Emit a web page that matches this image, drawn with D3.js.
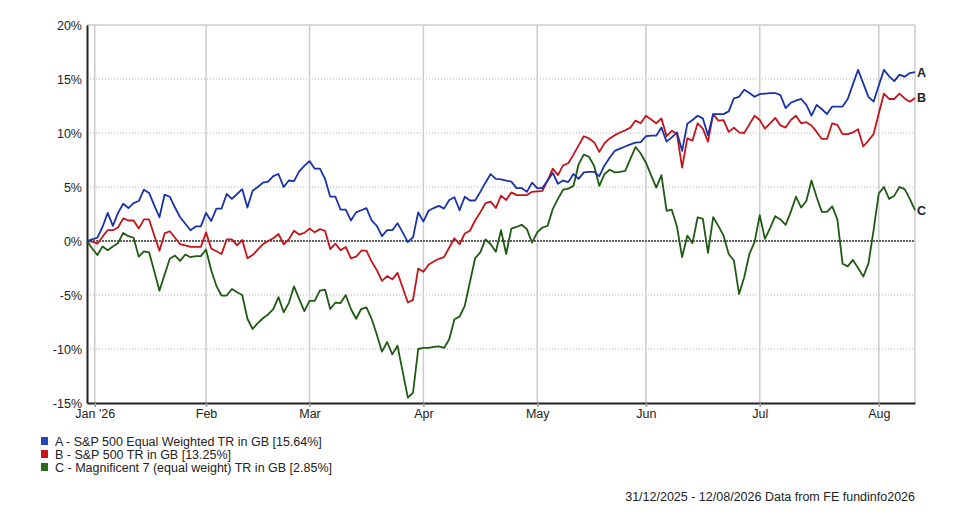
<!DOCTYPE html>
<html>
<head>
<meta charset="utf-8">
<script src="https://cdn.jsdelivr.net/npm/d3@7/dist/d3.min.js"></script>
<style>
  html, body { margin: 0; padding: 0; background: #fff; }
  svg { display: block; font-family: "Liberation Sans", Arial, sans-serif; }
</style>
</head>
<body>
<svg id="chart" width="960" height="523"></svg>
<script>
// ---- Data (daily business-day index 0 = 31/12/2025 ... 160 = 12/08/2026), values in % ----
const seriesNames = [
  "A - S&P 500 Equal Weighted TR in GB [15.64%]",
  "B - S&P 500 TR in GB [13.25%]",
  "C - Magnificent 7 (equal weight) TR in GB [2.85%]"
];
const seriesKeys = ["A", "B", "C"];

const seriesA = [
  0, 0.15, 0.3, 1.3, 2.6, 1.4, 2.6, 3.45, 3.05, 3.5,
  3.7, 4.75, 4.45, 3.3, 2.2, 4.3, 4.1, 3.1, 2.2, 1.6,
  1.0, 1.35, 1.35, 2.6, 1.85, 3.0, 3.0, 4.35, 3.9, 4.35,
  4.8, 3.1, 4.65, 5.0, 5.4, 5.5, 6.0, 6.2, 5.0, 5.6,
  5.55, 6.45, 6.95, 7.4, 6.7, 6.7, 5.75, 4.1, 4.1, 2.9,
  2.9, 1.9, 2.65, 2.85, 3.05, 1.9, 1.4, 0.45, 1.0, 1.0,
  1.65, 0.8, -0.1, 0.35, 2.65, 1.8, 2.8, 3.05, 3.25, 3.0,
  3.8, 4.05, 2.85, 4.1, 3.75, 3.75, 4.55, 5.4, 6.2, 5.75,
  5.7, 5.6, 5.5, 4.9, 4.9, 4.55, 5.4, 4.9, 4.9, 5.6,
  6.3, 5.3, 5.6, 5.45, 6.2, 5.75, 6.35, 6.4, 6.4, 6.0,
  7.0, 7.7, 8.35, 8.55, 8.75, 8.95, 9.1, 9.15, 9.7, 9.75,
  9.75, 10.5, 9.2, 9.6, 10.05, 8.35, 10.85, 11.2, 11.6, 11.35,
  9.8, 11.75, 11.75, 11.75, 12.0, 13.2, 13.35, 14.0, 13.7, 13.35,
  13.6, 13.65, 13.7, 13.7, 13.5, 12.3, 12.8, 13.0, 13.15, 12.6,
  11.6, 12.6, 12.2, 11.75, 12.45, 12.45, 12.45, 13.15, 14.5, 15.85,
  14.6, 13.35, 12.9, 14.4, 15.85, 15.25, 14.8, 15.4, 15.2, 15.55,
  15.64
];
const seriesB = [
  0, -0.05, -0.25, 0.4, 1.0, 1.0, 1.25, 2.1, 1.9, 1.9,
  1.15, 2.0, 2.0, 0.5, -0.9, 0.7, 0.9, 0.3, -0.3, -0.4,
  -0.55, -0.55, -0.55, 0.8, -0.7, -0.95, -1.2, 0.15, 0.15, -0.4,
  0.1, -1.6, -1.3, -0.8, -0.3, 0.0, 0.25, 0.65, -0.3, 0.15,
  0.95, 0.6, 0.75, 1.15, 0.8, 1.1, 0.95, -0.75, -0.25, -0.85,
  -0.55, -1.6, -1.45, -0.9, -0.9, -1.9, -2.7, -3.7, -3.25, -3.55,
  -2.95, -4.3, -5.7, -5.45, -2.55, -2.85, -2.2, -1.9, -1.65, -1.5,
  -0.6, 0.25, -0.3, 0.7, 0.95, 1.9, 2.65, 3.5, 3.65, 3.05,
  4.2, 3.8, 4.5, 4.25, 4.25, 4.25, 4.55, 4.6, 4.65, 5.6,
  6.7, 6.1, 7.0, 7.2, 8.0, 8.85, 9.7, 9.5, 9.15, 8.25,
  9.05, 9.5, 9.8, 10.05, 10.25, 10.5, 11.15, 10.9, 11.6, 11.25,
  10.9, 11.35, 9.7, 10.2, 9.9, 6.8, 9.5, 9.3, 10.9, 10.4,
  9.2, 11.75, 11.15, 11.2, 10.1, 10.5, 10.05, 10.0, 10.8, 11.6,
  11.2, 10.4, 10.9, 11.4, 10.7, 10.5, 11.2, 11.6, 10.9, 11.0,
  10.7, 10.1, 9.45, 9.45, 10.9, 10.75, 9.9, 9.9, 10.05, 10.35,
  8.75, 9.3, 9.9, 11.8, 13.65, 13.15, 13.15, 13.65, 13.2, 12.9,
  13.25
];
const seriesC = [
  0, -0.7, -1.3, -0.5, -0.85, -0.5, -0.2, 0.75, 0.45, 0.3,
  -1.45, -0.95, -1.05, -2.8, -4.6, -3.1, -1.65, -1.35, -1.85, -1.25,
  -1.5, -1.4, -1.4, -0.8, -2.7, -4.15, -5.05, -5.05, -4.45, -4.75,
  -5.0, -7.2, -8.15, -7.6, -7.15, -6.8, -6.3, -5.2, -6.6, -5.75,
  -4.2, -5.35, -6.5, -5.55, -5.55, -4.6, -4.5, -6.3, -5.7, -5.75,
  -5.0, -6.3, -7.2, -6.3, -6.15, -7.2, -8.65, -10.25, -9.35, -10.5,
  -9.7, -12.1, -14.5, -14.05, -10.0, -9.9, -9.9, -9.8, -9.75, -9.9,
  -9.1, -7.25, -7.0, -6.0, -3.8, -1.6, -1.05, 0.15, -0.3, -1.0,
  1.0, -1.2, 1.15, 1.3, 1.5, 1.1, -0.15, 0.8, 1.25, 1.4,
  2.95, 3.9, 4.75, 4.85, 5.1, 7.1, 8.0, 7.8, 6.95, 5.1,
  6.2, 6.6, 6.35, 6.4, 6.5, 7.6, 8.7, 8.1, 7.25, 6.1,
  4.95, 6.1, 2.8, 2.9, 1.35, -1.5, 0.5, -0.2, 2.2, 2.05,
  -1.1, 2.2, 1.4, 0.5, -1.2, -1.8, -4.9, -3.35, -1.2, -0.1,
  2.4, 0.2, 1.2, 2.3, 2.0, 1.5, 2.7, 4.1, 3.1, 3.7,
  5.6, 4.05, 2.7, 2.7, 3.2, 2.0, -2.1, -2.35, -1.75, -2.5,
  -3.3, -2.1, 1.0, 4.4, 5.0, 3.9, 4.2, 5.0, 4.8, 3.9,
  2.85
];

const monthLabels = ["Jan '26", "Feb", "Mar", "Apr", "May", "Jun", "Jul", "Aug"];
const monthTickIndex = [1.5, 23, 43, 65, 87, 108, 130, 153];
const yTicks = [-15, -10, -5, 0, 5, 10, 15, 20];
const footerText = "31/12/2025 - 12/08/2026 Data from FE fundinfo2026";

const colors = ["#1a32a8", "#c3141c", "#1f5a12"];
const legendColors = ["#2546b5", "#c81418", "#2c6a1e"];

// ---- Chart ----
const svg = d3.select("#chart");
const L = 87, R = 915, T = 25, B = 403;

const x = d3.scaleLinear().domain([0, seriesA.length - 1]).range([L, R]);
const y = d3.scaleLinear().domain([-15, 20]).range([B, T]);

// horizontal grid (dotted)
svg.append("g").selectAll("line")
  .data(yTicks.filter(d => d !== 0 && d !== -15 && d !== 20))
  .join("line")
  .attr("x1", L).attr("x2", R)
  .attr("y1", d => y(d)).attr("y2", d => y(d))
  .attr("stroke", "#b0b0b0").attr("stroke-width", 1)
  .attr("stroke-dasharray", "1,2");

// vertical month grid lines
svg.append("g").selectAll("line")
  .data(monthTickIndex)
  .join("line")
  .attr("x1", d => x(d)).attr("x2", d => x(d))
  .attr("y1", T).attr("y2", B)
  .attr("stroke", "#cccccc").attr("stroke-width", 1.5);

// top and right frame
svg.append("line").attr("x1", L).attr("x2", R).attr("y1", T).attr("y2", T)
  .attr("stroke", "#cccccc").attr("stroke-width", 1.5);
svg.append("line").attr("x1", R).attr("x2", R).attr("y1", T).attr("y2", B)
  .attr("stroke", "#cccccc").attr("stroke-width", 1.5);

// zero line
svg.append("line").attr("x1", L).attr("x2", R).attr("y1", y(0)).attr("y2", y(0))
  .attr("stroke", "#333").attr("stroke-width", 1.4).attr("stroke-dasharray", "2,1");

// y axis
const yAxis = svg.append("g")
  .attr("transform", `translate(${L},0)`)
  .call(d3.axisLeft(y).tickValues(yTicks).tickFormat(d => d + "%").tickSize(0).tickPadding(5));
yAxis.select(".domain").attr("stroke", "#222").attr("stroke-width", 2);
yAxis.selectAll("text").attr("font-size", 12.5).attr("fill", "#222")
  .attr("font-family", "'Liberation Sans', Arial, sans-serif");

// x axis
const xAxis = svg.append("g")
  .attr("transform", `translate(0,${B})`)
  .call(d3.axisBottom(x).tickValues(monthTickIndex)
    .tickFormat((d, i) => monthLabels[i]).tickSize(4).tickPadding(2).tickSizeOuter(0));
xAxis.select(".domain").attr("stroke", "#222").attr("stroke-width", 2);
xAxis.selectAll(".tick line").attr("stroke", "#999").attr("stroke-width", 1.5);
xAxis.selectAll("text").attr("font-size", 12.5).attr("fill", "#222")
  .attr("font-family", "'Liberation Sans', Arial, sans-serif");

// series lines
const line = d3.line().x((d, i) => x(i)).y(d => y(d));
const allSeries = [seriesA, seriesB, seriesC];
const drawOrder = [2, 1, 0];
svg.append("g").selectAll("path")
  .data(drawOrder)
  .join("path")
  .attr("d", k => line(allSeries[k]))
  .attr("fill", "none")
  .attr("stroke", k => colors[k])
  .attr("stroke-width", 1.8)
  .attr("stroke-linejoin", "round");

// end labels
svg.append("g").selectAll("text")
  .data([0, 1, 2])
  .join("text")
  .attr("x", R + 2)
  .attr("y", k => y(allSeries[k][allSeries[k].length - 1]) + 4.5)
  .attr("font-size", 12.5).attr("font-weight", "bold").attr("fill", "#222")
  .text(k => seriesKeys[k]);

// legend
const lg = svg.append("g").attr("transform", "translate(40,437)");
const rows = lg.selectAll("g").data([0, 1, 2]).join("g")
  .attr("transform", k => `translate(0,${k * 13})`);
rows.append("rect").attr("x", 1).attr("y", 0).attr("width", 7).attr("height", 8)
  .attr("fill", k => legendColors[k]);
rows.append("text").attr("x", 15).attr("y", 8.5)
  .attr("font-size", 12.5).attr("fill", "#222")
  .text(k => seriesNames[k]);

// footer
svg.append("text").attr("x", R).attr("y", 501).attr("text-anchor", "end")
  .attr("font-size", 12.5).attr("fill", "#222").text(footerText);
</script>
</body>
</html>
